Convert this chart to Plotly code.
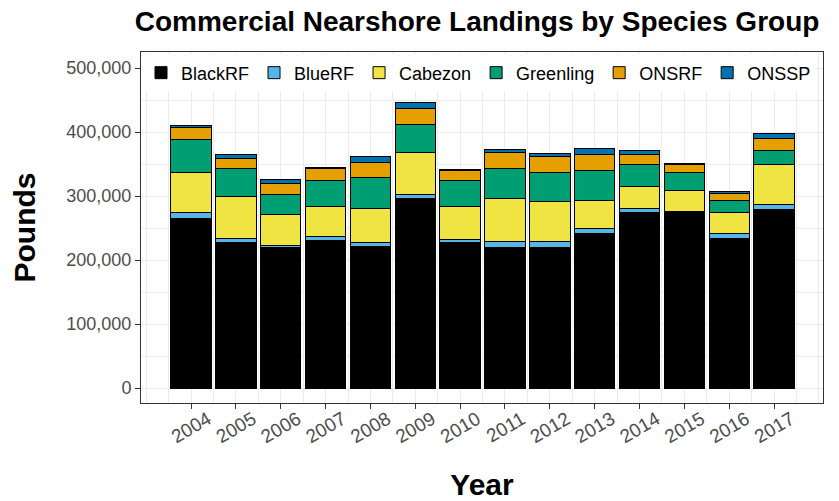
import plotly.graph_objects as go

years = [2004, 2005, 2006, 2007, 2008, 2009, 2010, 2011, 2012, 2013, 2014, 2015, 2016, 2017]
year_labels = [str(y) for y in years]

black_rf = [265200, 227700, 219200, 230200, 220800, 296400, 227000, 218800, 218800, 241100, 275000, 275000, 234400, 278600]
blue_rf = [9400, 6300, 4200, 5800, 6300, 5600, 5300, 10900, 10900, 7800, 5800, 500, 6300, 8400]
cabezon = [62500, 65000, 47300, 47300, 53100, 65600, 51600, 66100, 62500, 44400, 33300, 32800, 32800, 62500]
greenling = [50500, 43800, 31900, 41300, 48400, 44400, 40600, 46900, 44200, 46900, 35500, 28100, 18800, 21900]
onsrf = [19800, 15200, 17200, 18100, 24100, 24400, 15600, 25600, 25600, 25000, 15000, 12500, 12000, 18100]
onssp = [2000, 7400, 6700, 2000, 8800, 9400, 1500, 4700, 5200, 8300, 5800, 2000, 2000, 8400]

series = [
    ("BlackRF", black_rf, "#000000"),
    ("BlueRF", blue_rf, "#56B4E9"),
    ("Cabezon", cabezon, "#F0E442"),
    ("Greenling", greenling, "#009E73"),
    ("ONSRF", onsrf, "#E69F00"),
    ("ONSSP", onssp, "#0072B2"),
]

FONT = "Liberation Sans, Arial, sans-serif"

# The page body has an 8px margin, so the figure is drawn 8px in from the
# window's top-left corner; size it to end exactly at the window edge.
W, H = 831, 493

fig = go.Figure()
for name, vals, col in series:
    fig.add_trace(go.Bar(
        x=years, y=vals, name=name, width=0.9,
        marker=dict(color=col, line=dict(color="#000000", width=1)),
    ))

fig.update_layout(
    width=W, height=H,
    barmode="stack",
    paper_bgcolor="white", plot_bgcolor="white",
    margin=dict(l=133, r=16, t=44, b=98, autoexpand=False),
    font=dict(family=FONT, color="#000000"),
    title=dict(
        text="<b>Commercial Nearshore Landings by Species Group</b>",
        font=dict(family=FONT, size=28, color="#000000"),
        x=0.4927, xref="paper", xanchor="center",
        y=1 - 13.5 / H, yref="container", yanchor="middle",
    ),
    showlegend=True,
    legend=dict(
        orientation="h", x=0.0, y=0.993, xanchor="left", yanchor="top",
        bgcolor="white", font=dict(family=FONT, size=18, color="#000000"),
        traceorder="normal", itemwidth=30,
    ),
    xaxis=dict(
        range=[2002.885, 2018.09],
        tickmode="array", tickvals=years, ticktext=year_labels,
        tickangle=-30,
        ticklabelshift=17, ticklabelstandoff=-8,
        tickfont=dict(family=FONT, size=19, color="#4D4D4D"),
        ticks="outside", ticklen=5, tickcolor="#333333", tickwidth=1,
        showline=True, linecolor="#333333", linewidth=1, mirror=True,
        showgrid=True, gridcolor="#EBEBEB", gridwidth=1.2,
        minor=dict(dtick=0.5, tick0=2003.5, showgrid=True, gridcolor="#EBEBEB", gridwidth=0.6, ticks=""),
        zeroline=False,
        title=dict(text="<b>Year</b>", font=dict(family=FONT, size=30, color="#000000"), standoff=30),
    ),
    yaxis=dict(
        range=[-23400, 525000],
        tickmode="array", tickvals=[0, 100000, 200000, 300000, 400000, 500000],
        tickformat=",",
        tickfont=dict(family=FONT, size=18, color="#4D4D4D"),
        ticks="outside", ticklen=5, tickcolor="#333333", tickwidth=1,
        showline=True, linecolor="#333333", linewidth=1, mirror=True,
        showgrid=True, gridcolor="#EBEBEB", gridwidth=1.2,
        minor=dict(tickvals=[50000, 150000, 250000, 350000, 450000], showgrid=True, gridcolor="#EBEBEB", gridwidth=0.6, ticks=""),
        zeroline=False,
        title=dict(text="<b>Pounds</b>", font=dict(family=FONT, size=30, color="#000000"), standoff=24),
    ),
)

fig.write_html("out.html")
